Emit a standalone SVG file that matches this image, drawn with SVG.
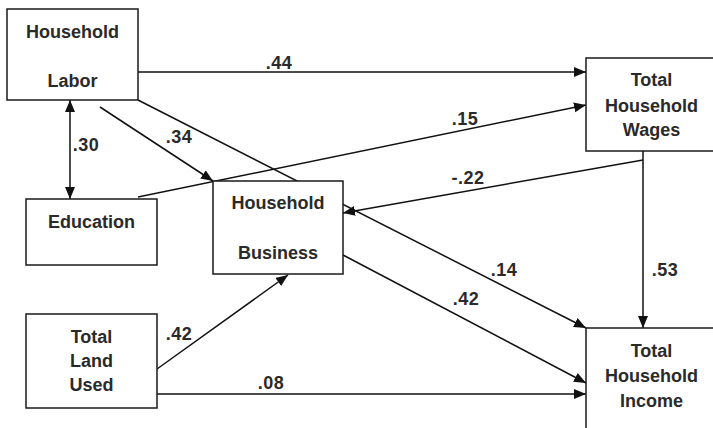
<svg xmlns="http://www.w3.org/2000/svg" width="713" height="428" viewBox="0 0 713 428">
<style>
.box{fill:#fff;stroke:#1a1a1a;stroke-width:1.5}
.t{font-family:"Liberation Sans",Arial,sans-serif;font-weight:bold;font-size:18px;fill:#2a2a2a;text-anchor:middle}
.lbl{font-family:"Liberation Sans",Arial,sans-serif;font-weight:bold;font-size:18px;fill:#2a2a2a;text-anchor:middle;letter-spacing:0.5px}
.c{fill:none;stroke:#111;stroke-width:1.5}
.a{marker-end:url(#ah)}
</style>
<defs>
<marker id="ah" markerUnits="userSpaceOnUse" markerWidth="13" markerHeight="11" refX="12" refY="5" orient="auto-start-reverse" viewBox="0 0 13 11">
<path d="M0,0 L12,5 L0,10 z" fill="#111"/>
</marker>
</defs>
<g id="connectors">
<path class="c a" d="M138,72 H586"/>
<path class="c a" d="M138,197 L586,105"/>
<path class="c a" d="M70,100 V199" style="marker-start:url(#ah)"/>
<path class="c a" d="M100,107 L213,181"/>
<path class="c a" d="M138,100 L586,328"/>
<path class="c a" d="M643,160 L343,213"/>
<path class="c a" d="M643,151 V328"/>
<path class="c a" d="M343,255 L586,383"/>
<path class="c a" d="M157,369 L288,275"/>
<path class="c a" d="M157,394 H586"/>
<text class="lbl" x="279" y="69">.44</text>
<text class="lbl" x="465" y="125">.15</text>
<text class="lbl" x="86" y="151">.30</text>
<text class="lbl" x="179" y="143">.34</text>
<text class="lbl" x="468" y="184">-.22</text>
<text class="lbl" x="504" y="276">.14</text>
<text class="lbl" x="665" y="276">.53</text>
<text class="lbl" x="466" y="305">.42</text>
<text class="lbl" x="179" y="340">.42</text>
<text class="lbl" x="271" y="389">.08</text>
</g>
<g id="labor">
<rect class="box" x="7" y="9" width="131" height="91"/>
<text class="t" x="72.5" y="38">Household</text>
<text class="t" x="72.5" y="87">Labor</text>
</g>
<g id="education">
<rect class="box" x="26" y="199" width="131" height="66"/>
<text class="t" x="91.5" y="228">Education</text>
</g>
<g id="business">
<rect class="box" x="213" y="181" width="130" height="93"/>
<text class="t" x="278" y="209">Household</text>
<text class="t" x="278" y="259">Business</text>
</g>
<g id="land">
<rect class="box" x="26" y="314" width="131" height="94"/>
<text class="t" x="91.5" y="343">Total</text>
<text class="t" x="91.5" y="367">Land</text>
<text class="t" x="91.5" y="391">Used</text>
</g>
<g id="wages">
<rect class="box" x="586" y="58" width="135" height="93"/>
<text class="t" x="651.5" y="86">Total</text>
<text class="t" x="651.5" y="112">Household</text>
<text class="t" x="651.5" y="136">Wages</text>
</g>
<g id="income">
<rect class="box" x="586" y="328" width="135" height="110"/>
<text class="t" x="651.5" y="357">Total</text>
<text class="t" x="651.5" y="382">Household</text>
<text class="t" x="651.5" y="407">Income</text>
</g>
</svg>
